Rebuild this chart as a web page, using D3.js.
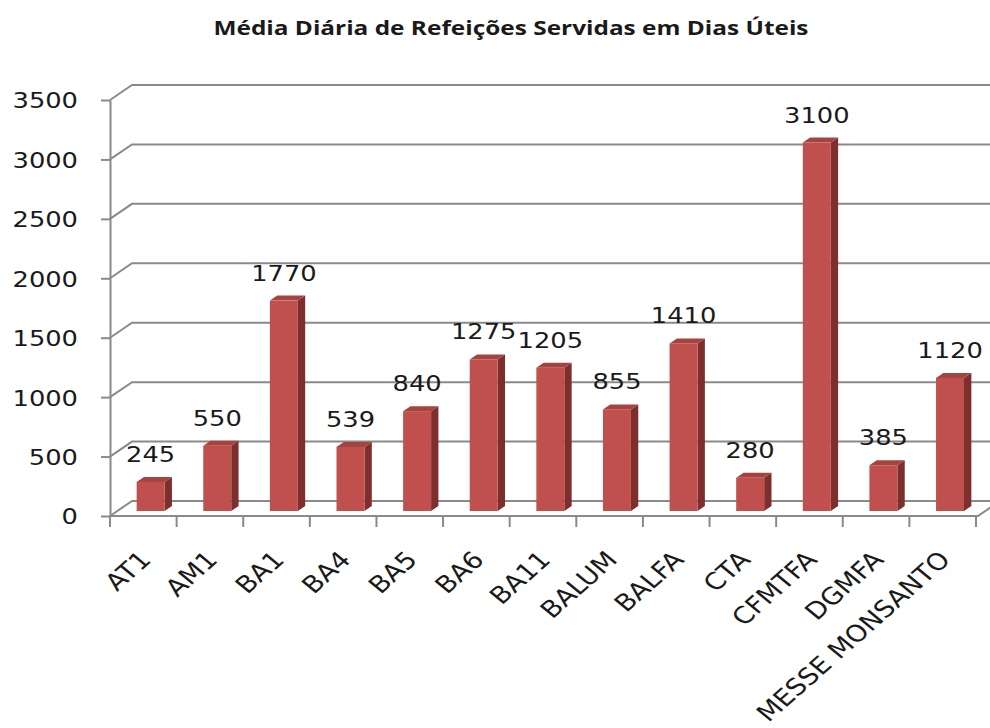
<!DOCTYPE html>
<html>
<head>
<meta charset="utf-8">
<script src="https://cdn.jsdelivr.net/npm/d3@7"></script>
<style>
	body { margin: 0; background: #fff; }
	text { font-family: "DejaVu Sans", Verdana, sans-serif; fill: #1a1a1a; }
</style>
</head>
<body>
<div id="chart"></div>
<script>
const title = "Média Diária de Refeições Servidas em Dias Úteis";
const categories = ["AT1", "AM1", "BA1", "BA4", "BA5", "BA6", "BA11", "BALUM", "BALFA", "CTA", "CFMTFA", "DGMFA", "MESSE MONSANTO"];
const values = [245, 550, 1770, 539, 840, 1275, 1205, 855, 1410, 280, 3100, 385, 1120];
const yTicks = [0, 500, 1000, 1500, 2000, 2500, 3000, 3500];

const width = 990;
const height = 728;
const depthX = 22;      // floor depth, horizontal
const depthY = 15;      // floor depth, vertical
const barDepth = 1 / 3; // bar sits in the middle third of the floor
const stretch = 1.17;   // the picture is wider than tall, text too
const gridColor = "#8a8a8a";

const svg = d3.select("#chart").append("svg")
	.attr("width", width)
	.attr("height", height);

const x = d3.scaleBand()
	.domain(categories)
	.range([110, 976]);

const y = d3.scaleLinear()
	.domain([0, 3500])
	.range([516, 100]);

// title
svg.append("text")
	.attr("x", 511)
	.attr("y", 35)
	.attr("text-anchor", "middle")
	.attr("textLength", 595)
	.attr("lengthAdjust", "spacingAndGlyphs")
	.style("font-family", "'Open Sans', sans-serif")
	.style("font-weight", "bold")
	.style("font-size", "19px")
	.text(title);

// back wall + side wall gridlines
const x0 = x.range()[0];
svg.append("g")
	.selectAll("path")
	.data(yTicks).enter()
	.append("path")
		.attr("d", (d) => `M${x0},${y(d)}L${x0 + depthX},${y(d) - depthY}L${width + 5},${y(d) - depthY}`)
		.attr("fill", "none")
		.attr("stroke", gridColor)
		.attr("stroke-width", 2);

// floor front edge
const x1 = x.range()[1];
svg.append("path")
	.attr("d", `M${x0},${y(0)}L${x1 + 2},${y(0)}L${x1 + 2 + depthX},${y(0) - depthY}`)
	.attr("fill", "none")
	.attr("stroke", gridColor)
	.attr("stroke-width", 2);

// category ticks at band edges
svg.append("g")
	.selectAll("line")
	.data(d3.range(categories.length + 1)).enter()
	.append("line")
		.attr("x1", (i) => x0 + i * x.step())
		.attr("x2", (i) => x0 + i * x.step())
		.attr("y1", y(0))
		.attr("y2", y(0) + 11)
		.attr("stroke", gridColor)
		.attr("stroke-width", 2);

// y axis
const yAxis = svg.append("g")
	.attr("transform", `translate(${x0},0)`)
	.call(d3.axisLeft(y).tickValues(yTicks).tickFormat(d3.format("d")).tickSize(9).tickSizeOuter(0));

yAxis.select(".domain").attr("stroke", gridColor).attr("stroke-width", 2);
yAxis.selectAll(".tick line").attr("stroke", gridColor).attr("stroke-width", 2);
yAxis.selectAll(".tick text")
	.attr("x", -32 / stretch)
	.attr("dy", "0.36em")
	.attr("transform", `scale(${stretch},1)`)
	.style("font-family", "'DejaVu Sans', sans-serif")
	.style("font-size", "22px")
	.attr("fill", "#1a1a1a");

// bars
const barW = x.bandwidth() * 0.42;
const offX = depthX * barDepth;
const offY = depthY * barDepth;
const sideX = depthX * barDepth;
const sideY = depthY * barDepth;

const bars = svg.append("g")
	.selectAll("g")
	.data(categories.map((c, i) => ({ name: c, value: values[i] }))).enter()
	.append("g")
		.attr("transform", (d) => `translate(${x(d.name) + (x.bandwidth() - barW) / 2 + offX}, ${-offY})`);

bars.append("path")
	.attr("d", (d) => `M${barW},${y(d.value)}L${barW + sideX},${y(d.value) - sideY}L${barW + sideX},${y(0) - sideY}L${barW},${y(0)}Z`)
	.attr("fill", "#7d2f2d");

bars.append("path")
	.attr("d", (d) => `M0,${y(d.value)}L${sideX},${y(d.value) - sideY}L${barW + sideX},${y(d.value) - sideY}L${barW},${y(d.value)}Z`)
	.attr("fill", "#a5433f");

bars.append("rect")
	.attr("x", 0)
	.attr("y", (d) => y(d.value))
	.attr("width", barW)
	.attr("height", (d) => y(0) - y(d.value))
	.attr("fill", "#c0504d");

// value labels
bars.append("text")
	.attr("text-anchor", "middle")
	.attr("transform", (d) => `translate(${barW / 2},${y(d.value) - sideY - 15}) scale(${stretch},1)`)
	.style("font-size", "22px")
	.text((d) => d.value);

// category labels
svg.append("g")
	.selectAll("text")
	.data(categories).enter()
	.append("text")
		.attr("text-anchor", "end")
		.attr("transform", (d) => `translate(${x(d) + x.bandwidth() / 2 + 9},${y(0) + 45}) scale(${stretch},1) rotate(-46)`)
		.style("font-size", "23.5px")
		.text((d) => d);
</script>
</body>
</html>
